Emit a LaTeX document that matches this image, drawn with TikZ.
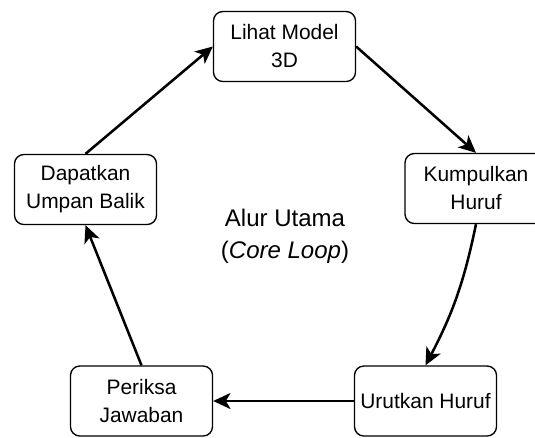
\documentclass[tikz,border=0pt]{standalone}
\usepackage{fontspec}
\setmainfont{Liberation Sans}
\usetikzlibrary{arrows.meta}
\begin{document}
\begin{tikzpicture}[x=0.75pt,y=-0.75pt,
  stepbox/.style={draw=black, line width=1pt, rounded corners=7pt, fill=white,
    minimum width=106.5pt, minimum height=52.5pt, inner sep=0pt, align=center,
    font=\fontsize{15.7}{21}\selectfont},
  flow/.style={line width=1.9pt, -{Stealth[length=13pt,width=12pt,inset=3.5pt]}}]
\useasboundingbox (0,0) rectangle (535,437);
\node[stepbox] (b1) at (284.5,46.5) {Lihat Model\\3D};
\node[stepbox] (b2) at (476,188.5) {Kumpulkan\\Huruf};
\node[stepbox] (b3) at (425.5,401) {Urutkan Huruf};
\node[stepbox] (b4) at (141.5,401) {Periksa\\Jawaban};
\node[stepbox] (b5) at (85.5,189.5) {Dapatkan\\Umpan Balik};
\node[align=center, font=\fontsize{18}{24}\selectfont] (c) at (285,236) {Alur Utama\\(\textit{Core Loop})};
\draw[flow] (b5.north) -- (b1.west);
\draw[flow] (b1.east) -- (b2.north);
\draw[flow] (b2.south) to[bend left=8] (b3.north);
\draw[flow] (b3.west) -- (b4.east);
\draw[flow] (b4.north) -- (b5.south);
\end{tikzpicture}
\end{document}
